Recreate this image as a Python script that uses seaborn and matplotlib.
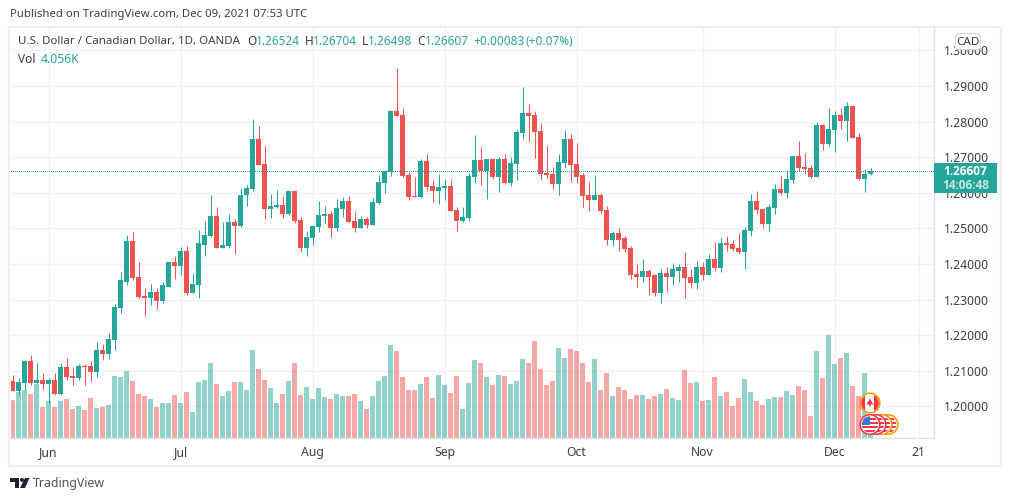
import numpy as np
import pandas as pd
import matplotlib
matplotlib.use("Agg")
import matplotlib.pyplot as plt
from matplotlib.patches import Circle, Rectangle, Polygon, FancyBboxPatch
import seaborn as sns

opens = [1.2071,1.2043,1.2065,1.2127,1.2065,1.2074,1.2063,1.2074,1.2035,1.2110,
         1.2085,1.2079,1.2113,1.2113,1.2096,1.2158,1.2147,1.2186,1.2276,1.2351,
         1.2466,1.2363,1.2309,1.2304,1.2323,1.2295,1.2337,1.2405,1.2396,1.2436,
         1.2318,1.2340,1.2455,1.2480,1.2536,1.2444,1.2452,1.2517,1.2508,1.2593,
         1.2612,1.2752,1.2681,1.2555,1.2561,1.2566,1.2541,1.2606,1.2524,1.2446,
         1.2474,1.2505,1.2536,1.2541,1.2502,1.2555,1.2578,1.2521,1.2502,1.2527,
         1.2510,1.2572,1.2628,1.2659,1.2830,1.2819,1.2650,1.2592,1.2589,1.2690,
         1.2620,1.2606,1.2614,1.2620,1.2552,1.2521,1.2530,1.2645,1.2693,1.2662,
         1.2695,1.2645,1.2695,1.2629,1.2682,1.2769,1.2825,1.2820,1.2775,1.2657,
         1.2654,1.2626,1.2685,1.2752,1.2682,1.2649,1.2593,1.2581,1.2593,1.2553,
         1.2469,1.2486,1.2472,1.2444,1.2371,1.2365,1.2382,1.2368,1.2318,1.2374,
         1.2363,1.2382,1.2391,1.2363,1.2346,1.2391,1.2368,1.2413,1.2388,1.2458,
         1.2457,1.2446,1.2435,1.2493,1.2578,1.2555,1.2513,1.2558,1.2611,1.2600,
         1.2636,1.2704,1.2673,1.2670,1.2645,1.2791,1.2737,1.2777,1.2819,1.2802,
         1.2844,1.2757,1.2639,1.26524]
highs = [1.2088,1.2079,1.2130,1.2144,1.2121,1.2093,1.2079,1.2093,1.2121,1.2136,
         1.2110,1.2119,1.2119,1.2127,1.2180,1.2175,1.2206,1.2287,1.2379,1.2483,
         1.2489,1.2405,1.2332,1.2343,1.2332,1.2349,1.2405,1.2424,1.2447,1.2452,
         1.2374,1.2497,1.2522,1.2593,1.2559,1.2517,1.2542,1.2528,1.2615,1.2623,
         1.2808,1.2789,1.2732,1.2597,1.2608,1.2592,1.2606,1.2606,1.2533,1.2493,
         1.2507,1.2578,1.2564,1.2550,1.2583,1.2589,1.2592,1.2550,1.2536,1.2533,
         1.2586,1.2650,1.2664,1.2833,1.2950,1.2838,1.2659,1.2645,1.2695,1.2709,
         1.2636,1.2653,1.2639,1.2639,1.2561,1.2561,1.2656,1.2763,1.2729,1.2695,
         1.2695,1.2701,1.2709,1.2702,1.2778,1.2898,1.2850,1.2831,1.2797,1.2733,
         1.2674,1.2710,1.2778,1.2766,1.2741,1.2657,1.2632,1.2651,1.2601,1.2564,
         1.2494,1.2500,1.2480,1.2452,1.2399,1.2413,1.2385,1.2371,1.2385,1.2393,
         1.2402,1.2399,1.2433,1.2385,1.2410,1.2405,1.2427,1.2461,1.2475,1.2480,
         1.2468,1.2488,1.2505,1.2597,1.2606,1.2555,1.2569,1.2625,1.2648,1.2664,
         1.2707,1.2746,1.2712,1.2679,1.2799,1.2793,1.2838,1.2830,1.2838,1.2855,
         1.2844,1.2768,1.2667,1.26704]
lows = [1.2043,1.2032,1.2046,1.2060,1.2063,1.2049,1.2009,1.2032,1.2032,1.2074,
        1.2060,1.2074,1.2060,1.2071,1.2082,1.2130,1.2133,1.2158,1.2264,1.2340,
        1.2354,1.2304,1.2253,1.2284,1.2273,1.2290,1.2335,1.2357,1.2368,1.2312,
        1.2318,1.2304,1.2424,1.2475,1.2444,1.2444,1.2444,1.2427,1.2503,1.2564,
        1.2604,1.2677,1.2527,1.2530,1.2558,1.2530,1.2538,1.2516,1.2435,1.2423,
        1.2454,1.2491,1.2516,1.2477,1.2493,1.2533,1.2519,1.2491,1.2502,1.2502,
        1.2510,1.2569,1.2600,1.2648,1.2816,1.2645,1.2580,1.2589,1.2586,1.2606,
        1.2575,1.2569,1.2580,1.2550,1.2493,1.2519,1.2521,1.2628,1.2622,1.2583,
        1.2639,1.2603,1.2625,1.2618,1.2637,1.2752,1.2744,1.2699,1.2635,1.2643,
        1.2612,1.2595,1.2671,1.2632,1.2629,1.2559,1.2548,1.2579,1.2542,1.2455,
        1.2450,1.2436,1.2433,1.2357,1.2337,1.2351,1.2312,1.2309,1.2290,1.2323,
        1.2340,1.2351,1.2304,1.2332,1.2329,1.2354,1.2368,1.2382,1.2379,1.2438,
        1.2437,1.2429,1.2387,1.2479,1.2541,1.2502,1.2493,1.2541,1.2594,1.2586,
        1.2628,1.2662,1.2653,1.2642,1.2645,1.2721,1.2732,1.2715,1.2779,1.2746,
        1.2754,1.2636,1.2603,1.26498]
closes = [1.2043,1.2068,1.2127,1.2065,1.2074,1.2063,1.2074,1.2035,1.2110,1.2082,
          1.2079,1.2113,1.2110,1.2096,1.2158,1.2147,1.2189,1.2279,1.2354,1.2466,
          1.2360,1.2307,1.2304,1.2323,1.2295,1.2340,1.2405,1.2396,1.2436,1.2318,
          1.2343,1.2458,1.2483,1.2536,1.2444,1.2455,1.2517,1.2508,1.2595,1.2615,
          1.2752,1.2679,1.2555,1.2564,1.2566,1.2541,1.2606,1.2521,1.2446,1.2477,
          1.2507,1.2538,1.2541,1.2502,1.2558,1.2578,1.2519,1.2502,1.2527,1.2510,
          1.2575,1.2631,1.2662,1.2830,1.2816,1.2648,1.2589,1.2589,1.2690,1.2617,
          1.2606,1.2617,1.2620,1.2550,1.2521,1.2533,1.2648,1.2693,1.2662,1.2695,
          1.2645,1.2695,1.2628,1.2685,1.2772,1.2825,1.2817,1.2772,1.2654,1.2651,
          1.2626,1.2688,1.2752,1.2679,1.2646,1.2590,1.2581,1.2593,1.2550,1.2469,
          1.2486,1.2469,1.2441,1.2368,1.2365,1.2382,1.2365,1.2318,1.2374,1.2363,
          1.2385,1.2391,1.2360,1.2346,1.2391,1.2368,1.2413,1.2388,1.2458,1.2455,
          1.2443,1.2435,1.2496,1.2578,1.2552,1.2513,1.2561,1.2611,1.2600,1.2639,
          1.2704,1.2670,1.2667,1.2645,1.2791,1.2737,1.2779,1.2819,1.2802,1.2844,
          1.2754,1.2639,1.2653,1.26607]
# volume in thousands
volumes = [15.3,18.5,19.3,17.7,21.7,12.5,14.9,12.5,14.9,15.7,
           11.7,12.9,11.3,16.1,12.1,12.5,13.3,24.9,24.5,26.9,
           22.9,17.7,16.9,15.7,12.5,14.1,14.1,17.3,14.1,18.5,
           10.5,22.5,23.3,30.1,21.7,16.9,18.9,22.5,22.5,19.3,
           35.3,27.7,23.3,20.1,14.1,17.7,22.9,30.1,17.3,20.5,
           15.7,20.1,16.5,15.7,17.7,16.9,16.9,17.7,14.9,11.7,
           16.9,22.9,24.9,37.3,34.9,24.5,19.3,19.3,21.7,24.5,
           16.1,25.3,21.3,18.1,24.9,11.7,22.1,31.3,30.1,24.5,
           21.3,25.3,24.9,21.7,22.9,31.7,30.1,38.9,27.7,21.3,
           22.9,36.1,32.1,35.7,34.9,30.1,22.5,31.7,19.3,26.1,
           16.9,20.5,19.3,15.7,17.3,17.3,15.7,16.9,17.7,19.7,
           16.1,15.3,27.3,22.1,22.5,14.9,15.3,24.5,16.9,18.5,
           12.9,16.1,23.7,18.5,14.9,13.3,15.7,16.5,16.5,18.9,
           17.3,20.9,19.3,8.9,34.9,24.1,41.3,29.7,32.1,34.1,
           20.9,16.9,26.1,4.056]

price_ticks = [1.20, 1.21, 1.22, 1.23, 1.24, 1.25, 1.26, 1.27, 1.28, 1.29, 1.30]
date_ticks = [6, 28, 50, 72, 94, 115, 137, 151]
date_labels = ["Jun", "Jul", "Aug", "Sep", "Oct", "Nov", "Dec", "21"]

UP = "#26a69a"
DOWN = "#ef5350"
GRID = "#f0f1f5"
EDGE = "#eeeff4"
TEXT = "#3a3e4a"
XLIM = (-1 / 3, 153.58)
YLIM = (1.19115, 1.3066)

sns.set_theme(style="white")
plt.rcParams['font.family'] = ['Noto Sans', 'DejaVu Sans']

W, H = 1012, 501
fig = plt.figure(figsize=(W / 100, H / 100), dpi=100, facecolor="white")
pos = [10.5 / W, 1 - 438 / H, (934 - 10.5) / W, (438 - 27) / H]

df = pd.DataFrame({"day": np.arange(len(opens)), "open": opens, "high": highs,
                   "low": lows, "close": closes, "volume": volumes})
df["side"] = np.where(df["close"] >= df["open"], "up", "down")

# grid goes on its own axes so it shows through the volume bars
ax_grid = fig.add_axes(pos, zorder=0)
ax_grid.set_xlim(*XLIM)
ax_grid.set_ylim(*YLIM)
ax_grid.set_xticks(date_ticks, [])
ax_grid.set_yticks(price_ticks, [])
ax_grid.tick_params(length=0)
ax_grid.grid(True, color=GRID, lw=1)
for s in ax_grid.spines.values():
    s.set_visible(False)

# volume pane sits under the candles
ax_vol = fig.add_axes(pos, zorder=1)
ax_vol.patch.set_visible(False)
sns.barplot(data=df, x="day", y="volume", hue="side", palette={"up": UP, "down": DOWN},
            native_scale=True, dodge=False, width=5 / 6, saturation=1, legend=False,
            linewidth=0, alpha=0.5, ax=ax_vol)
ax_vol.set_xlim(*XLIM)
ax_vol.set_ylim(0, 164.4)
ax_vol.set_xticks([])
ax_vol.set_yticks([])
ax_vol.set_xlabel("")
ax_vol.set_ylabel("")
for s in ax_vol.spines.values():
    s.set_visible(False)

# candles
ax = fig.add_axes(pos, zorder=2)
ax.patch.set_visible(False)
colors = np.where(df["side"] == "up", UP, DOWN)
ax.vlines(df["day"], df["low"], df["high"], colors=colors, linewidth=0.72, zorder=3, snap=True)
ax.bar(df["day"], (df["close"] - df["open"]).abs(), bottom=df[["open", "close"]].min(axis=1),
       width=5 / 6, color=colors, linewidth=0, zorder=4)
ax.axhline(closes[-1], color=UP, lw=0.72, linestyle=(0, (1, 2)), zorder=5, antialiased=False)
ax.set_xlim(*XLIM)
ax.set_ylim(*YLIM)
ax.set_xticks(date_ticks, date_labels)
ax.set_yticks(price_ticks, [f"{p:.5f}" for p in price_ticks])
ax.yaxis.tick_right()
ax.tick_params(axis="y", length=0, pad=7, labelsize=8.8, labelcolor=TEXT)
ax.tick_params(axis="x", length=0, pad=6, labelsize=8.8, labelcolor=TEXT)
for name, s in ax.spines.items():
    s.set_visible(name in ("right", "bottom"))
    s.set_color("#dfe1e8")
    s.set_linewidth(1)

# overlay in pixel coordinates: frame, texts, price tag and event badges
ov = fig.add_axes([0, 0, 1, 1], zorder=5)
ov.set_xlim(0, W)
ov.set_ylim(H, 0)
ov.axis("off")
ov.add_patch(Rectangle((9.5, 26.5), 992, 439, fill=False, ec=EDGE, lw=1.6))

ov.text(10, 14.5, "Published on TradingView.com, Dec 09, 2021 07:53 UTC", fontsize=8.2,
        color=TEXT, va="center")
ov.text(18, 41, "U.S. Dollar / Canadian Dollar, 1D, OANDA", fontsize=8.3, color=TEXT, va="center")
ov.text(18, 59, "Vol", fontsize=8.6, color=TEXT, va="center")
ov.text(41, 59, "4.056K", fontsize=8.8, color=UP, va="center")
legend_bits = [(247, "O", TEXT), (256, "1.26524", UP), (305, "H", TEXT), (313, "1.26704", UP),
               (362, "L", TEXT), (368, "1.26498", UP), (417, "C", TEXT), (425, "1.26607", UP),
               (473, "+0.00083", UP), (526, "(+0.07%)", UP)]
for x, s, c in legend_bits:
    ov.text(x, 41, s, fontsize=8.5, color=c, va="center")

# price tag on the scale
ov.add_patch(Rectangle((934, 163), 63, 30, fc=UP, ec="none"))
ov.text(965, 171.5, "1.26607", fontsize=8.6, color="white", fontweight="bold",
        family=["Open Sans", "DejaVu Sans"], ha="center", va="center")
ov.text(966, 185.5, "14:06:48", fontsize=8.6, color="#c4e7e3", fontweight="bold",
        family=["Open Sans", "DejaVu Sans"], ha="center", va="center")

# currency box
ov.add_patch(FancyBboxPatch((955.5, 33.5), 25, 16, boxstyle="round,pad=0,rounding_size=3",
                            fc="white", ec="#d5d7de", lw=0.8))
ov.text(968, 42, "CAD", fontsize=8.4, color=TEXT, ha="center", va="center")


def canada_badge(cx, cy):
    ring = Circle((cx, cy), 9.8, fc="white", ec="#ff9800", lw=1.1, zorder=6)
    ov.add_patch(ring)
    clip = Circle((cx, cy), 8.8, transform=ov.transData)
    for rx in (cx - 9, cx + 4.5):
        r = Rectangle((rx, cy - 9), 4.5, 18, fc="#f23645", ec="none", zorder=7)
        ov.add_patch(r)
        r.set_clip_path(clip)
    ov.add_patch(Polygon([(cx, cy - 4.5), (cx + 3.5, cy + 1.5), (cx + 0.7, cy + 1.5), (cx + 0.7, cy + 3.5),
                          (cx - 0.7, cy + 3.5), (cx - 0.7, cy + 1.5), (cx - 3.5, cy + 1.5)],
                         fc="#f23645", ec="none", zorder=7))


def us_badge(cx, cy, edge, z):
    ring = Circle((cx, cy), 9.8, fc="white", ec=edge, lw=1.1, zorder=z)
    ov.add_patch(ring)
    clip = Circle((cx, cy), 8.2, transform=ov.transData)
    for k in range(0, 4):
        r = Rectangle((cx - 9, cy - 7 + k * 4.2), 18, 2.2, fc="#f23645", ec="none", zorder=z)
        ov.add_patch(r)
        r.set_clip_path(clip)
    c = Rectangle((cx - 9, cy - 9), 9.5, 9, fc="#2f7de1", ec="none", zorder=z)
    ov.add_patch(c)
    c.set_clip_path(clip)


canada_badge(870, 403)
us_badge(888, 424.5, "#ff9800", 6)
us_badge(882, 424.5, "#ff9800", 7)
us_badge(876, 424.5, "#f23645", 8)
us_badge(870, 424.5, "#f23645", 9)

# logo
ov.add_patch(Polygon([(10, 478), (19, 478), (19, 488), (15, 488), (15, 482), (10, 482)], fc="#1e222d", ec="none"))
ov.add_patch(Circle((22, 480), 2, fc="#1e222d", ec="none"))
ov.add_patch(Polygon([(25, 478), (29.5, 478), (25, 488), (20, 488)], fc="#1e222d", ec="none"))
ov.text(33, 483, "TradingView", fontsize=8.9, color="#50535e", va="center")

fig.savefig("out.png", dpi=100)
plt.close(fig)
